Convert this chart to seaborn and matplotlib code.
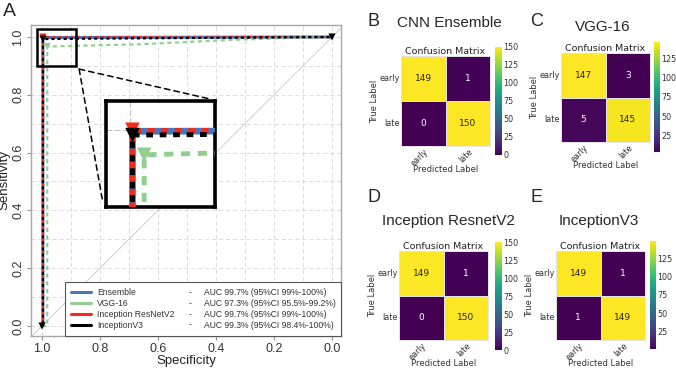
import numpy as np
import pandas as pd
import matplotlib
matplotlib.use("Agg")
import matplotlib.pyplot as plt
import seaborn as sns
from matplotlib.patches import Rectangle, ConnectionPatch
from matplotlib.lines import Line2D
from matplotlib.ticker import MultipleLocator

# ---------------- data ----------------
models = ["Ensemble", "VGG-16", "Inception ResNetV2", "InceptionV3"]
auc_text = ["AUC 99.7% (95%CI 99%-100%)",
            "AUC 97.3% (95%CI 95.5%-99.2%)",
            "AUC 99.7% (95%CI 99%-100%)",
            "AUC 99.3% (95%CI 98.4%-100%)"]

# ROC curves (specificity, sensitivity)
ens_spec = [1.0, 0.997, 0.997, 0.0]
ens_sens = [0.0, 0.0, 0.998, 1.0]
vgg_spec = [1.0, 0.982, 0.982, 0.66, 0.35, 0.1, 0.0]
vgg_sens = [0.0, 0.0, 0.967, 0.975, 0.99, 0.998, 1.0]
irv2_spec = [1.0, 0.997, 0.997, 0.0]
irv2_sens = [0.0, 0.0, 1.0, 1.0]
iv3_spec = [1.0, 0.997, 0.997, 0.0]
iv3_sens = [0.0, 0.0, 0.993, 1.0]

# threshold markers
vgg_mark_spec = [0.982]
vgg_mark_sens = [0.967]
irv2_mark_spec = [0.997]
irv2_mark_sens = [1.0]
iv3_mark_spec = [1.0, 0.997, 0.0]
iv3_mark_sens = [0.0, 0.993, 1.0]

# confusion matrices
class_labels = ["early", "late"]
cm_titles = ["CNN Ensemble", "VGG-16", "Inception ResnetV2", "InceptionV3"]
cm_letters = ["B", "C", "D", "E"]
cm_ensemble = [[149, 1], [0, 150]]
cm_vgg16 = [[147, 3], [5, 145]]
cm_irv2 = [[149, 1], [0, 150]]
cm_iv3 = [[149, 1], [1, 149]]

# ---------------- style ----------------
sns.set_style("white")
plt.rcParams["font.family"] = ["Liberation Sans", "DejaVu Sans"]
plt.rcParams["lines.scale_dashes"] = False

W, H = 676, 369
fig = plt.figure(figsize=(W / 100, H / 100), dpi=100)


def px_axes(l, t, r, b):
    return fig.add_axes([l / W, 1 - b / H, (r - l) / W, (b - t) / H])


c_blue, c_green, c_red, c_black = "#4677bf", "#92cf8f", "#f52a1a", "#000000"
colors = [c_blue, c_green, c_red, c_black]

curves = [(ens_spec, ens_sens), (vgg_spec, vgg_sens),
          (irv2_spec, irv2_sens), (iv3_spec, iv3_sens)]


def draw_roc(a, big=False):
    k = 2.2 if big else 1.0
    styles = [dict(lw=2.2 * k, ls="-"),
              dict(lw=1.6 * k, ls=(0, (3 * k, 2.5 * k))),
              dict(lw=1.6 * k, ls=(0, (2.2 * k, 2.2 * k))),
              dict(lw=1.6 * k, ls=(2.2 * k, (2.2 * k, 2.2 * k)))]
    for (sx, sy), col, st, z in zip(curves, colors, styles, [3, 3.1, 3.2, 3.3]):
        sns.lineplot(x=sx, y=sy, sort=False, estimator=None, ax=a,
                     color=col, linewidth=st["lw"], linestyle=st["ls"], zorder=z)
    s = 110 if big else 26
    sns.scatterplot(x=vgg_mark_spec, y=vgg_mark_sens, marker="v", s=s,
                    color=c_green, edgecolor="none", ax=a, zorder=4)
    sns.scatterplot(x=irv2_mark_spec, y=irv2_mark_sens, marker="v", s=s,
                    color=c_red, edgecolor="none", ax=a, zorder=4)
    sns.scatterplot(x=iv3_mark_spec, y=iv3_mark_sens, marker="v", s=s,
                    color=c_black, edgecolor="none", ax=a, zorder=4.1)


# ---------------- panel A ----------------
ax = px_axes(31, 25, 341, 336)
draw_roc(ax)
ax.axline((1, 0), (0, 1), color="#c8c8c8", lw=0.6, zorder=1)
ax.set_xlim(1.038, -0.031)
ax.set_ylim(-0.0346, 1.0415)
for axis in (ax.xaxis, ax.yaxis):
    axis.set_major_locator(MultipleLocator(0.2))
    axis.set_minor_locator(MultipleLocator(0.1))
ax.set_axisbelow(True)
ax.grid(which="both", color="#d6d6d6", ls=(0, (3, 2)), lw=0.6)
ax.tick_params(which="major", direction="out", length=3, width=0.8,
               color="#909090", labelsize=9, labelcolor="#333333", pad=2,
               bottom=True, left=True)
ax.tick_params(which="minor", length=0)
for lab in ax.get_yticklabels():
    lab.set_rotation(90)
    lab.set_va("center")
for sp in ax.spines.values():
    sp.set_color("#a8a8a8")
    sp.set_linewidth(1.0)
ax.set_xlabel("Specificity", fontsize=9.5, labelpad=0, color="#222222")
ax.set_ylabel("Sensitivity", fontsize=9.5, labelpad=1, color="#222222")

# zoom box + inset
zx0, zx1, zy0, zy1 = 0.883, 1.017, 0.900, 1.028
ax.add_patch(Rectangle((zx0, zy0), zx1 - zx0, zy1 - zy0, fill=False,
                       ec="black", lw=1.8, zorder=5))

ax_in = px_axes(106, 101, 215, 207)
draw_roc(ax_in, big=True)
ax_in.set_xlim(1.031, 0.891)
ax_in.set_ylim(0.898, 1.038)
ax_in.set_xticks([1.0])
ax_in.set_yticks([1.0])
ax_in.grid(color="#b8b8b8", ls=(0, (4, 2)), lw=0.7)
ax_in.set_axisbelow(True)
ax_in.tick_params(length=0, labelbottom=False, labelleft=False)
ax_in.set_facecolor("white")
for sp in ax_in.spines.values():
    sp.set_color("black")
    sp.set_linewidth(2.6)

for xyB in [(0.95, 1.02), (-0.03, 0.05)]:
    con = ConnectionPatch(xyA=(0.872, 0.889), coordsA="data", axesA=ax,
                          xyB=xyB, coordsB="axes fraction", axesB=ax_in,
                          color="black", lw=1.1, ls=(0, (4, 3)), zorder=6)
    fig.add_artist(con)

# legend
handles = [Line2D([], [], color=c, lw=2.2) for c in colors]
x0 = (65 - 31) / 310
leg = ax.legend(handles, models, loc="lower left",
                bbox_to_anchor=(x0, 0, 1 - x0, 0.2), mode="expand",
                borderaxespad=0, fontsize=6.2, frameon=True, fancybox=False,
                edgecolor="#555555", framealpha=1, handlelength=2.3,
                handletextpad=0.7, labelspacing=0.2, borderpad=0.75)
leg.get_frame().set_linewidth(0.8)
leg.set_zorder(8)
for t in leg.get_texts():
    t.set_color("#333333")

fig.canvas.draw()
inv = ax.transAxes.inverted()
for t, auc in zip(leg.get_texts(), auc_text):
    bb = t.get_window_extent()
    ya = inv.transform((0, (bb.y0 + bb.y1) / 2))[1]
    ax.text(0.51, ya, "-", transform=ax.transAxes, va="center",
            fontsize=6.2, color="#333333", zorder=10)
    ax.text(0.558, ya, auc, transform=ax.transAxes, va="center",
            fontsize=6.2, color="#333333", zorder=10)

fig.text(3 / W, 1 - 11 / H, "A", fontsize=14, va="center", ha="left")

# ---------------- panels B-E ----------------
cms = [cm_ensemble, cm_vgg16, cm_irv2, cm_iv3]
mat_px = [(401, 56, 490, 146), (561, 53, 650, 142),
          (399, 251, 488, 340), (556, 251, 645, 340)]
cbar_px = [(495, 47, 502, 155), (654, 42, 660, 152),
           (495, 242, 502, 350), (650, 241, 656, 349)]
title_xy = [(449, 23), (603, 27), (448, 221), (599, 221)]
letter_xy = [(367, 22), (530, 22), (367, 197), (531, 197)]

for cm, mp, cp, title, txy, letter, lxy in zip(cms, mat_px, cbar_px, cm_titles,
                                               title_xy, cm_letters, letter_xy):
    a = px_axes(*mp)
    ca = px_axes(*cp)
    df = pd.DataFrame(cm, index=class_labels, columns=class_labels)
    sns.heatmap(df, annot=True, fmt="d", cmap="viridis", ax=a, cbar_ax=ca,
                linewidths=0.5, linecolor="#e2e2e2",
                annot_kws={"size": 6.5, "family": "DejaVu Sans"})
    for sp in a.spines.values():
        sp.set_visible(True)
        sp.set_color("#e2e2e2")
        sp.set_linewidth(0.6)
    a.set_title("Confusion Matrix", fontsize=6.8, pad=1.5,
                family="DejaVu Sans", color="#222222")
    a.set_xlabel("Predicted Label", fontsize=6.0, labelpad=-2.5,
                 family="DejaVu Sans", color="#333333")
    a.set_ylabel("True Label", fontsize=6.0, labelpad=0,
                 family="DejaVu Sans", color="#333333")
    a.tick_params(length=0, pad=1, labelsize=5.8, labelcolor="#333333")
    a.set_yticklabels(class_labels, rotation=0, family="DejaVu Sans")
    a.set_xticklabels(class_labels, rotation=45, ha="right",
                      rotation_mode="anchor", family="DejaVu Sans")
    ca.yaxis.set_major_locator(MultipleLocator(25))
    ca.tick_params(labelsize=5.8, length=0, pad=1, labelcolor="#333333")
    for lab in ca.get_yticklabels():
        lab.set_family("DejaVu Sans")
    fig.text(txy[0] / W, 1 - txy[1] / H, title, fontsize=11,
             ha="center", va="center")
    fig.text(lxy[0] / W, 1 - lxy[1] / H, letter, fontsize=13,
             ha="left", va="center")

fig.savefig("out.png", dpi=100)
